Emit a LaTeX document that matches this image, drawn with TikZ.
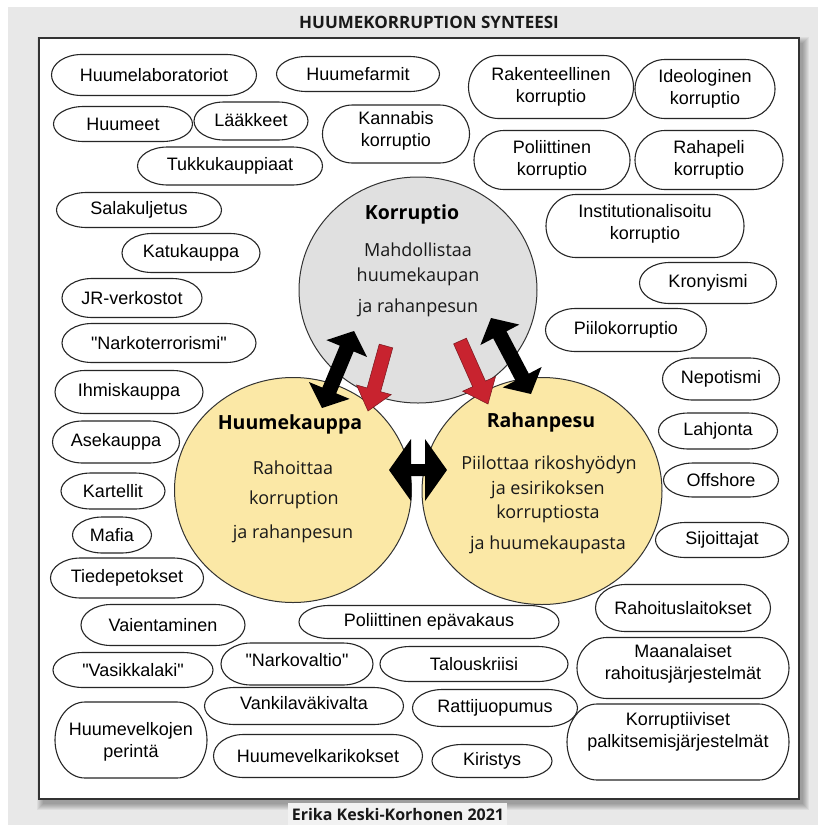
\documentclass[tikz,border=0pt]{standalone}
\usepackage{fontspec}
\setmainfont{Liberation Sans}[Ligatures=TeXOff]
\newfontfamily\osans{Open Sans}
\usetikzlibrary{calc,shapes.geometric}
\definecolor{bggray}{HTML}{E8E8E8}
\definecolor{footbg}{HTML}{F2F2F2}
\definecolor{circyellow}{HTML}{FBE8A6}
\definecolor{circgray}{HTML}{E0E0E0}
\definecolor{arrowred}{HTML}{C8232F}
\tikzset{
  pillline/.style={draw=black!85, line width=1.1pt, fill=white},
  pilltext/.style={inner sep=0pt, align=center, font=\fontsize{18}{22}\selectfont},
  bigcirc/.style={ellipse, draw=black!80, line width=1pt, inner sep=0pt},
  ctitle/.style={anchor=base, font=\osans\bfseries\fontsize{19.5}{22}\selectfont},
  cbody/.style={anchor=base, font=\osans\fontsize{18}{22}\selectfont, text=black!90},
  blackarrow/.style={fill=black},
  redarrow/.style={fill=arrowred, draw=arrowred!60!black, line width=0.5pt},
}
% \pill[dy]{name}{cx}{cy}{w}{h}{text}
\newcommand{\pill}[7][0]{%
  \pgfmathsetmacro{\prx}{min(30,#5/2)}%
  \pgfmathsetmacro{\pry}{#6/2}%
  \draw[pillline] ({#3-#5/2+\prx},{#4-\pry}) -- ({#3+#5/2-\prx},{#4-\pry})
    arc[start angle=-90,end angle=90,x radius=\prx,y radius=\pry]
    -- ({#3-#5/2+\prx},{#4+\pry})
    arc[start angle=90,end angle=270,x radius=\prx,y radius=\pry] -- cycle;
  \node[pilltext] (#2) at (#3,{#4+#1}) {#7};
}
% \dblarrow{A}{B}{head length}{head half width}{shaft half width}{style}
\newcommand{\dblarrow}[6]{%
  \path ($(#1)!#3!(#2)$) coordinate (da1) ($(#2)!#3!(#1)$) coordinate (da2);
  \path[#6] (#1) -- ($(da1)!#4!90:(#2)$) -- ($(da1)!#5!90:(#2)$)
    -- ($(da2)!#5!-90:(#1)$) -- ($(da2)!#4!-90:(#1)$) -- (#2)
    -- ($(da2)!#4!90:(#1)$) -- ($(da2)!#5!90:(#1)$)
    -- ($(da1)!#5!-90:(#2)$) -- ($(da1)!#4!-90:(#2)$) -- cycle;
}
% \sglarrow{A}{B}{head length}{head half width}{shaft half width}{style}
\newcommand{\sglarrow}[6]{%
  \path ($(#2)!#3!(#1)$) coordinate (sa2);
  \path[#6] ($(#1)!#5!90:(#2)$) -- ($(sa2)!#5!-90:(#1)$) -- ($(sa2)!#4!-90:(#1)$)
    -- (#2) -- ($(sa2)!#4!90:(#1)$) -- ($(sa2)!#5!90:(#1)$)
    -- ($(#1)!#5!-90:(#2)$) -- cycle;
}
\begin{document}
\begin{tikzpicture}[x=1pt,y=-1pt]
\useasboundingbox (0,0) rectangle (818,825);
\fill[white] (0,0) rectangle (818,825);
\fill[bggray] (8,7) rectangle (818,825);
% title
\node[font=\osans\bfseries\fontsize{17}{20}\selectfont, text=black!90] (title) at (429,22) {HUUMEKORRUPTION SYNTEESI};
% shadow + main box
\foreach \i in {0,...,6} {
  \fill[black,opacity=0.05] ({39+4-\i},{38+5-\i}) rectangle ({799+4+\i},{799+5+\i});
}
\path[fill=white, draw=black!80, line width=1.5pt] (39,38) rectangle (799,799);
% footer
\fill[footbg] (288,803) rectangle (507,825);
\node[font=\osans\bfseries\fontsize{16}{19}\selectfont, text=black!90] (foot) at (398,814) {Erika Keski-Korhonen 2021};

% pills
\pill{hlab}{154}{75}{205}{41}{Huumelaboratoriot}
\pill{hfarm}{358}{74}{163}{35}{Huumefarmit}
\pill{hmeet}{123}{124}{139}{35}{Huumeet}
\pill[-1]{laak}{251}{121}{114}{38}{Lääkkeet}
\pill{tukku}{230}{166}{185}{38}{Tukkukauppiaat}
\pill[-3]{kanna}{396}{134}{147}{58}{Kannabis\\korruptio}
\pill{raken}{551}{87}{165}{63}{Rakenteellinen\\korruptio}
\pill{ideol}{705}{89}{140}{59}{Ideologinen\\korruptio}
\pill{polkor}{552}{160}{156}{59}{Poliittinen\\korruptio}
\pill{rahap}{709}{160}{148}{59}{Rahapeli\\korruptio}
\pill[-2]{instit}{645}{226}{198}{63}{Institutionalisoitu\\korruptio}
\pill{krony}{708}{283}{137}{41}{Kronyismi}
\pill{piilo}{626}{330}{161}{43}{Piilokorruptio}
\pill{nepot}{721}{379}{117}{42}{Nepotismi}
\pill{lahj}{718}{431}{119}{36}{Lahjonta}
\pill{offs}{721}{480}{115}{34}{Offshore}
\pill{sijo}{722}{540}{133}{35}{Sijoittajat}
\pill{sala}{139}{210}{165}{35}{Salakuljetus}
\pill{katu}{191}{253}{138}{39}{Katukauppa}
\pill{jrver}{132}{298}{140}{39}{JR-verkostot}
\pill{narkot}{159}{343}{194}{39}{"Narkoterrorismi"}
\pill{ihmis}{129}{392}{148}{43}{Ihmiskauppa}
\pill{asek}{116}{442}{127}{42}{Asekauppa}
\pill{kart}{113}{491}{104}{36}{Kartellit}
\pill{mafia}{112}{535}{79}{36}{Mafia}
\pill{tiede}{127}{578}{153}{40}{Tiedepetokset}
\pill{vaien}{163}{625}{164}{41}{Vaientaminen}
\pill{vasik}{133}{670}{160}{35}{"Vasikkalaki"}
\pill[-4]{narkov}{297}{664}{152}{42}{"Narkovaltio"}
\pill[2]{hvperi}{131}{740}{152}{76}{Huumevelkojen\\perintä}
\pill[-3]{vanki}{304}{706}{199}{37}{Vankilaväkivalta}
\pill{hvrik}{318}{756}{209}{43}{Huumevelkarikokset}
\pill{polep}{429}{622}{260}{33}{Poliittinen epävakaus}
\pill{talo}{474}{664}{188}{35}{Talouskriisi}
\pill{ratti}{495}{708}{165}{37}{Rattijuopumus}
\pill{kiri}{492}{761}{120}{33}{Kiristys}
\pill{rahoi}{683}{608}{175}{47}{Rahoituslaitokset}
\pill[-4]{maan}{683}{668}{212}{61}{Maanalaiset\\rahoitusjärjestelmät}
\pill[-10]{korrp}{678}{742}{222}{76}{Korruptiiviset\\palkitsemisjärjestelmät}

% circles
\node[bigcirc, fill=circgray, minimum width=238pt, minimum height=226pt] (korr) at (418,290) {};
\node[bigcirc, fill=circyellow, minimum width=237pt, minimum height=225pt] (huume) at (293,490) {};
\node[bigcirc, fill=circyellow, minimum width=240pt, minimum height=227pt] (raha) at (542,491) {};

\node[ctitle] (korrT) at (412,219) {Korruptio};
\node[cbody] (korr1) at (418,256) {Mahdollistaa};
\node[cbody] (korr2) at (418,281) {huumekaupan};
\node[cbody] (korr3) at (418,312) {ja rahanpesun};

\node[ctitle] (huumeT) at (290,429) {Huumekauppa};
\node[cbody] (huume1) at (293,474) {Rahoittaa};
\node[cbody] (huume2) at (294,504) {korruption};
\node[cbody] (huume3) at (293,538) {ja rahanpesun};

\node[ctitle] (rahaT) at (541,427) {Rahanpesu};
\node[cbody] (raha1) at (549,469) {Piilottaa rikoshyödyn};
\node[cbody] (raha2) at (548,494) {ja esirikoksen};
\node[cbody] (raha3) at (548,518) {korruptiosta};
\node[cbody] (raha4) at (548,549) {ja huumekaupasta};

% arrows
\coordinate (lbA) at (354,331);
\coordinate (lbB) at (322,408);
\coordinate (rbA) at (491,318);
\coordinate (rbB) at (531,394);
\coordinate (lrA) at (386,346);
\coordinate (lrB) at (368,411);
\coordinate (rrA) at (460,341);
\coordinate (rrB) at (488,404);
\coordinate (hA) at (389,470);
\coordinate (hB) at (447,470);
\dblarrow{lbA}{lbB}{19pt}{22pt}{7.5pt}{blackarrow}
\dblarrow{rbA}{rbB}{19pt}{22pt}{7.5pt}{blackarrow}
\sglarrow{lrA}{lrB}{22pt}{18pt}{7pt}{redarrow}
\sglarrow{rrA}{rrB}{22pt}{18pt}{7pt}{redarrow}
\dblarrow{hA}{hB}{22pt}{31pt}{6pt}{blackarrow}
\end{tikzpicture}
\end{document}
